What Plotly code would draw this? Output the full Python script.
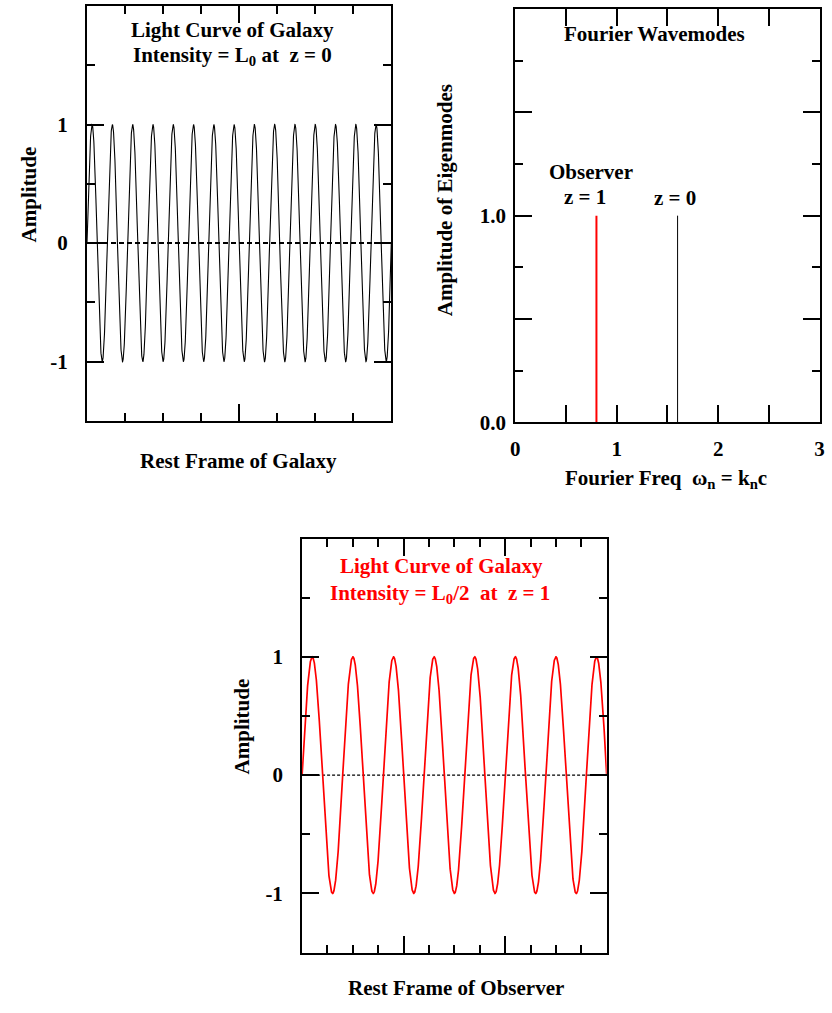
import numpy as np
import plotly.graph_objects as go

# ---------------- data ----------------
# top-left light curve (rest frame of galaxy)
galaxy_x_range = [0, 8]
galaxy_cycles = 15          # full cycles across the panel
galaxy_amplitude = 1.0

# bottom light curve (rest frame of observer)
observer_x_range = [0, 12]
observer_cycles = 7.5
observer_amplitude = 1.0

# Fourier wavemodes
mode_freqs = [0.8, 1.6]
mode_amps = [1.0, 1.0]
mode_colors = ["red", "black"]
mode_widths = [2, 1]

amp_tickvals = [-1, 0, 1]
amp_ticktext = ["-1", "0", "1"]
eig_tickvals = [0.0, 1.0]
eig_ticktext = ["0.0", "1.0"]
eig_unlabelled_major = [0.5, 1.5]
freq_tickvals = [0, 1, 2, 3]
freq_ticktext = ["0", "1", "2", "3"]

W, H = 832, 1013
FONT = "Liberation Serif"
FS = 21

def px(x):
    return x / W

def py(y):
    return 1 - y / H

fig = go.Figure()

# light curve top-left
xg = np.linspace(galaxy_x_range[0], galaxy_x_range[1], 3000)
yg = galaxy_amplitude * np.sin(2 * np.pi * galaxy_cycles * (xg - galaxy_x_range[0]) / (galaxy_x_range[1] - galaxy_x_range[0]))
fig.add_trace(go.Scatter(x=galaxy_x_range, y=[0, 0], mode="lines",
                         line=dict(color="black", width=2, dash="5px,3px"),
                         xaxis="x", yaxis="y", showlegend=False))
fig.add_trace(go.Scatter(x=xg, y=yg, mode="lines", line=dict(color="black", width=1.1),
                         xaxis="x", yaxis="y", showlegend=False))

# Fourier modes
for f, a, c, w in zip(mode_freqs, mode_amps, mode_colors, mode_widths):
    fig.add_trace(go.Scatter(x=[f, f], y=[0, a], mode="lines", line=dict(color=c, width=w),
                             xaxis="x2", yaxis="y2", showlegend=False))

# bottom light curve
xo = np.linspace(observer_x_range[0], observer_x_range[1], 3000)
yo = observer_amplitude * np.sin(2 * np.pi * observer_cycles * (xo - observer_x_range[0]) / (observer_x_range[1] - observer_x_range[0]))
fig.add_trace(go.Scatter(x=observer_x_range, y=[0, 0], mode="lines",
                         line=dict(color="black", width=1.3, dash="3px,2px"),
                         xaxis="x3", yaxis="y3", showlegend=False))
fig.add_trace(go.Scatter(x=xo, y=yo, mode="lines", line=dict(color="red", width=1.7),
                         xaxis="x3", yaxis="y3", showlegend=False))

axis_common = dict(showline=True, linecolor="black", linewidth=2, mirror="allticks",
                   ticks="inside", ticklen=17, tickwidth=1.5, tickcolor="black",
                   showgrid=False, zeroline=False,
                   tickfont=dict(family=FONT, size=FS, color="black", weight="bold"))

def minor(d):
    return dict(ticks="inside", ticklen=8, tickwidth=1.5, tickcolor="black", dtick=d, showgrid=False)

fig.update_layout(
    width=W, height=H, margin=dict(l=0, r=0, t=0, b=0),
    paper_bgcolor="white", plot_bgcolor="white", showlegend=False,
    xaxis=dict(axis_common, domain=[px(83), px(391)], range=galaxy_x_range,
               tickvals=[4], showticklabels=False, minor=minor(1), anchor="y"),
    yaxis=dict(axis_common, domain=[py(426), py(6)], range=[-1.5, 2],
               tickvals=amp_tickvals, ticktext=amp_ticktext, minor=minor(0.5),
               ticklabelstandoff=13, anchor="x"),
    xaxis2=dict(axis_common, domain=[px(516.5), px(824.5)], range=[0, 3],
                tickvals=freq_tickvals, ticktext=freq_ticktext, minor=minor(0.5),
                ticklabelstandoff=6, anchor="y2"),
    yaxis2=dict(axis_common, domain=[py(427.5), py(9)], range=[0, 2],
                tickvals=eig_tickvals, ticktext=eig_ticktext, minor=minor(0.25),
                ticklabelstandoff=3, anchor="x2"),
    yaxis4=dict(axis_common, domain=[py(427.5), py(9)], range=[0, 2],
                tickvals=eig_unlabelled_major, showticklabels=False,
                overlaying="y2", anchor="x2"),
    xaxis3=dict(axis_common, domain=[px(300.7), px(609)], range=observer_x_range,
                tickvals=[4, 8], showticklabels=False, minor=minor(1), anchor="y3"),
    yaxis3=dict(axis_common, domain=[py(964), py(545)], range=[-1.5, 2],
                tickvals=amp_tickvals, ticktext=amp_ticktext, minor=minor(0.5),
                ticklabelstandoff=13, anchor="x3"),
)
# anchor an invisible trace to yaxis4 so it is drawn
fig.add_trace(go.Scatter(x=[mode_freqs[0]], y=[mode_amps[0]], mode="markers",
                         marker=dict(opacity=0), xaxis="x2", yaxis="y4",
                         showlegend=False, hoverinfo="skip"))

def note(text, x, y, color="black", size=FS, angle=0):
    fig.add_annotation(text=text, x=px(x), y=py(y), xref="paper", yref="paper",
                       showarrow=False, xanchor="center", yanchor="middle",
                       textangle=angle,
                       font=dict(family=FONT, size=size, color=color, weight="bold"))

# top-left
note("Light Curve of Galaxy", 230, 30)
note("Intensity = L<sub>0</sub> at  z = 0", 230, 57)
note("Amplitude", 24, 197, angle=-90)
note("Rest Frame of Galaxy", 236, 467)

# top-right
note("Fourier Wavemodes", 657, 34)
note("Observer", 593, 174)
note("z = 1", 587, 199)
note("z = 0", 678, 200)
note("Amplitude of Eigenmodes", 445, 203, angle=-90)
note("Fourier Freq  ω<sub>n</sub> = k<sub>n</sub>c", 669, 485)

# bottom
note("Light Curve of Galaxy", 442, 573, color="red")
note("Intensity = L<sub>0</sub>/2  at  z = 1", 440, 601, color="red")
note("Amplitude", 240, 735, angle=-90)
note("Rest Frame of Observer", 456, 1000)

fig.write_html("out.html")
